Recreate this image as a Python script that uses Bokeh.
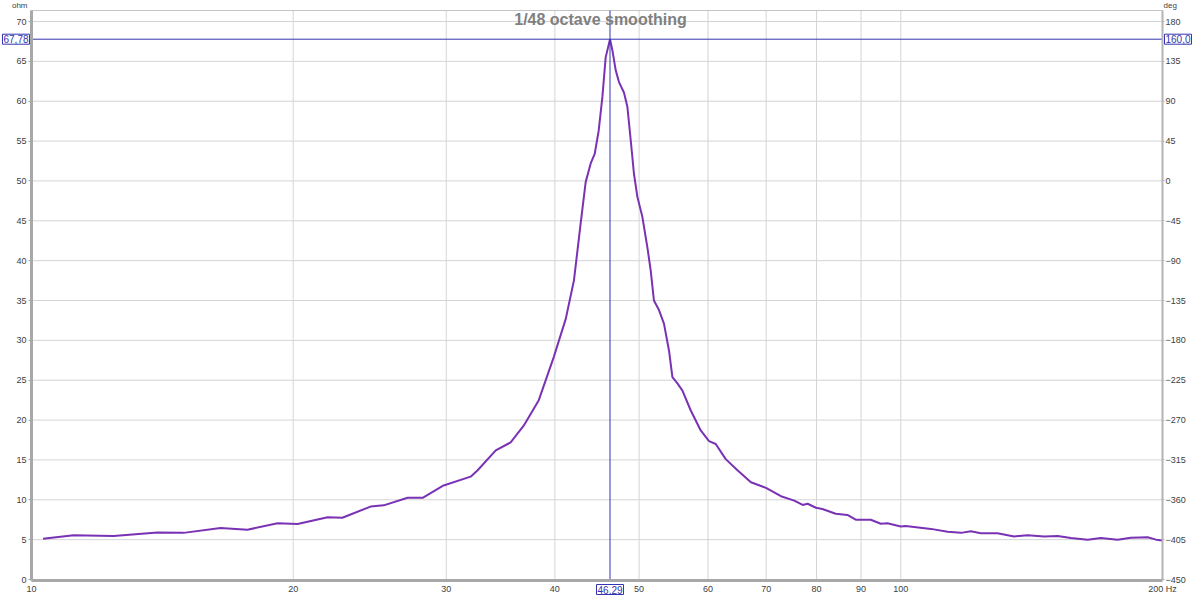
import math
from bokeh.plotting import figure
from bokeh.models import Range1d, LinearAxis, FixedTicker, Label
from bokeh.embed import file_html
from bokeh.resources import INLINE

# ---- data ----
freq_hz = [10.31, 11.18, 12.43, 13.96, 14.96, 16.50, 17.72, 19.19, 20.23, 21.91,
           22.78, 24.55, 25.42, 27.08, 28.18, 29.79, 32.00, 32.60, 34.20, 35.58,
           36.83, 38.33, 39.88, 41.17, 42.07, 42.82, 43.40, 43.98, 44.45, 44.92,
           45.37, 45.76, 46.29, 46.58, 46.99, 47.40, 48.03, 48.47, 48.90, 49.32,
           49.77, 50.43, 51.10, 51.55, 52.00, 52.70, 53.40, 54.12, 54.61, 55.34,
           56.08, 57.33, 58.86, 60.17, 61.25, 62.89, 64.88, 67.23, 69.97, 72.80,
           75.41, 77.11, 78.13, 79.87, 81.24, 84.16, 86.81, 88.74, 92.34, 94.84,
           96.54, 100.0, 101.3, 108.3, 113.2, 117.3, 120.4, 123.6, 129.2, 135.0,
           139.9, 146.2, 151.5, 156.9, 164.0, 169.9, 177.6, 183.9, 192.3, 196.6,
           200.0]
impedance_ohm = [5.10, 5.55, 5.45, 5.90, 5.85, 6.45, 6.25, 7.05, 6.95, 7.80,
                 7.75, 9.15, 9.30, 10.25, 10.25, 11.80, 12.90, 13.70, 16.20, 17.20,
                 19.30, 22.50, 27.90, 32.70, 37.50, 44.60, 49.85, 52.20, 53.40, 56.30,
                 60.60, 65.50, 67.78, 66.40, 63.90, 62.40, 61.10, 59.30, 55.10, 50.90,
                 48.00, 45.50, 41.70, 38.80, 35.00, 33.80, 32.10, 28.70, 25.40, 24.60,
                 23.70, 21.20, 18.70, 17.35, 17.00, 15.10, 13.70, 12.20, 11.50, 10.45,
                 9.90, 9.35, 9.50, 9.00, 8.85, 8.25, 8.10, 7.50, 7.50, 7.00,
                 7.05, 6.65, 6.70, 6.35, 6.00, 5.85, 6.05, 5.80, 5.80, 5.40,
                 5.55, 5.40, 5.45, 5.20, 5.00, 5.20, 5.00, 5.25, 5.30, 5.00,
                 4.90]

x_ticks = [10, 20, 30, 40, 50, 60, 70, 80, 90, 100, 200]
x_tick_labels = ["10", "20", "30", "40", "50", "60", "70", "80", "90", "100", "200 Hz"]
ohm_ticks = [0, 5, 10, 15, 20, 25, 30, 35, 40, 45, 50, 55, 60, 65, 70]
deg_ticks = [-450, -405, -360, -315, -270, -225, -180, -135, -90, -45, 0, 45, 90, 135, 180]

cursor_freq = 46.29
cursor_ohm = 67.78
cursor_deg = 160.0
title_text = "1/48 octave smoothing"
left_unit = "ohm"
right_unit = "deg"

# ---- styling ----
FONT = "Liberation Sans"
LABEL_COLOR = "#404040"
GRID_COLOR = "#d4d4d4"
AXIS_COLOR = "#a8a8a8"
CURVE_COLOR = "#7a32b4"
CURSOR_COLOR = "#3434b0"
TICK_FONT = "9px"

# ---- layout: the frame fills the canvas, the plot box sits inside it ----
W, H = 1200, 595
PX_LEFT, PX_RIGHT, PX_TOP, PX_BOTTOM = 31, 1162, 10, 580   # plot box in pixels
F_MIN, F_MAX = 10, 200                                     # frequency span of plot box
PX_Y0, PX_Y70 = 579, 21                                    # pixel rows of 0 and 70 ohm

K = (PX_RIGHT - PX_LEFT) / math.log10(F_MAX / F_MIN)       # px per decade
S = (PX_Y0 - PX_Y70) / 70.0                                # px per ohm
x_lo = 10 ** (math.log10(F_MIN) - PX_LEFT / K)
x_hi = 10 ** (math.log10(F_MAX) + (W - PX_RIGHT) / K)
y_lo = (PX_Y0 - H) / S
y_hi = PX_Y0 / S
Y_BOT = (PX_Y0 - PX_BOTTOM) / S
Y_TOP = (PX_Y0 - PX_TOP) / S

def to_deg(v):
    return v * 9 - 450

p = figure(width=W, height=H, x_axis_type="log",
           x_range=Range1d(x_lo, x_hi), y_range=Range1d(y_lo, y_hi),
           output_backend="svg", toolbar_location=None,
           min_border_left=0, min_border_right=0,
           min_border_top=0, min_border_bottom=0)
p.extra_y_ranges = {"deg": Range1d(to_deg(y_lo), to_deg(y_hi))}

p.background_fill_color = "white"
p.border_fill_color = "white"
p.outline_line_color = None
p.xgrid.visible = False
p.ygrid.visible = False

# grid lines inside the plot box
p.segment(x0=x_ticks, y0=[Y_BOT] * len(x_ticks), x1=x_ticks, y1=[Y_TOP] * len(x_ticks),
          line_color=GRID_COLOR, line_width=1)
p.segment(x0=[F_MIN] * len(ohm_ticks), y0=ohm_ticks, x1=[F_MAX] * len(ohm_ticks), y1=ohm_ticks,
          line_color=GRID_COLOR, line_width=1)
# top border of the plot box
p.segment(x0=[F_MIN], y0=[Y_TOP], x1=[F_MAX], y1=[Y_TOP], line_color="#c4c4c4", line_width=1)

# x axis
xa = p.xaxis[0]
xa.fixed_location = Y_BOT
xa.bounds = (F_MIN, F_MAX)
xa.ticker = FixedTicker(ticks=x_ticks)
xa.major_label_overrides = {t: l for t, l in zip(x_ticks, x_tick_labels)}
xa.axis_line_color = AXIS_COLOR
xa.axis_line_width = 3
xa.major_tick_out = 0
xa.major_tick_in = 0
xa.minor_tick_line_color = None
xa.major_label_standoff = 3
xa.major_label_text_font = FONT
xa.major_label_text_font_size = TICK_FONT
xa.major_label_text_color = LABEL_COLOR

# left axis (ohm)
ya = p.yaxis[0]
ya.fixed_location = F_MIN
ya.bounds = (Y_BOT, Y_TOP)
ya.ticker = FixedTicker(ticks=ohm_ticks)
ya.axis_line_color = AXIS_COLOR
ya.axis_line_width = 3
ya.major_tick_out = 3
ya.major_tick_in = 0
ya.major_tick_line_color = AXIS_COLOR
ya.minor_tick_line_color = None
ya.major_label_standoff = 2
ya.major_label_text_font = FONT
ya.major_label_text_font_size = TICK_FONT
ya.major_label_text_color = LABEL_COLOR

# right axis (deg)
ra = LinearAxis(y_range_name="deg", ticker=FixedTicker(ticks=deg_ticks),
                fixed_location=F_MAX, bounds=(to_deg(Y_BOT), to_deg(Y_TOP)))
ra.axis_line_color = "#b4b4b4"
ra.axis_line_width = 2
ra.major_tick_out = 2
ra.major_tick_in = 0
ra.major_tick_line_color = "#b4b4b4"
ra.minor_tick_line_color = None
ra.major_label_standoff = 1
ra.major_label_text_font = FONT
ra.major_label_text_font_size = TICK_FONT
ra.major_label_text_color = LABEL_COLOR
p.add_layout(ra, "right")

# curve
p.line(freq_hz, impedance_ohm, line_color=CURVE_COLOR, line_width=2)

# cursor lines
p.segment(x0=[F_MIN], y0=[cursor_ohm], x1=[F_MAX], y1=[cursor_ohm],
          line_color=CURSOR_COLOR, line_width=1)
p.segment(x0=[cursor_freq], y0=[Y_BOT], x1=[cursor_freq], y1=[Y_TOP],
          line_color=CURSOR_COLOR, line_width=1)

def fmt(v, n):
    return f"{v:.{n}f}".replace(".", ",")

box_kw = dict(text_font=FONT, text_font_size="10px", text_color=CURSOR_COLOR,
              background_fill_color="white", border_line_color=CURSOR_COLOR,
              border_line_width=1, padding=1)

p.add_layout(Label(x=F_MIN, x_offset=-2, y=cursor_ohm, text=fmt(cursor_ohm, 2),
                   text_align="right", text_baseline="middle", **box_kw))
p.add_layout(Label(x=F_MAX, x_offset=2, y=cursor_ohm, text=fmt(cursor_deg, 1),
                   text_align="left", text_baseline="middle", **box_kw))
p.add_layout(Label(x=cursor_freq, y=Y_BOT, y_offset=-9, text=fmt(cursor_freq, 2),
                   text_align="center", text_baseline="middle", **box_kw))

unit_kw = dict(text_font=FONT, text_font_size="8px", text_color=LABEL_COLOR,
               text_baseline="bottom")
p.add_layout(Label(x=F_MIN, x_offset=-4, y=Y_TOP, y_offset=1, text=left_unit,
                   text_align="right", **unit_kw))
p.add_layout(Label(x=F_MAX, x_offset=1, y=Y_TOP, y_offset=1, text=right_unit,
                   text_align="left", **unit_kw))

# title
p.add_layout(Label(x=600, y=H - 19, x_units="screen", y_units="screen", text=title_text,
                   text_align="center", text_baseline="middle", text_font=FONT,
                   text_font_style="bold", text_font_size="16px", text_color="#808080"))

open("out.html", "w").write(file_html(p, INLINE))
